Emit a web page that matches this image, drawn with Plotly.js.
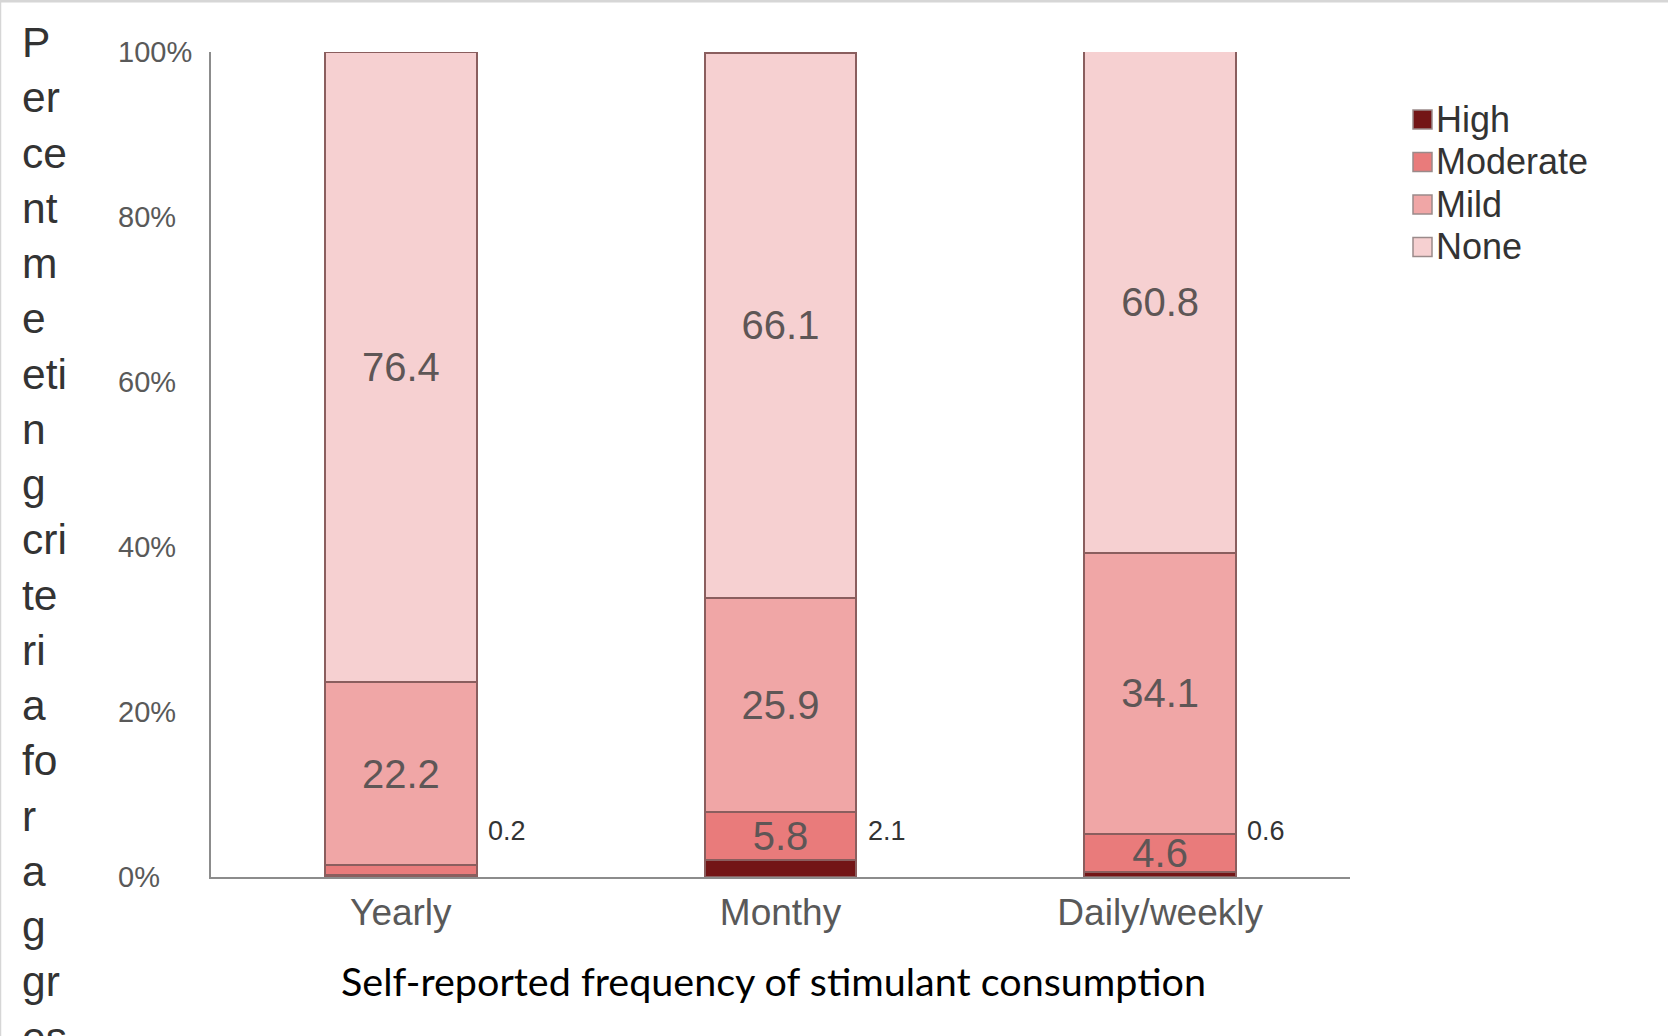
<!DOCTYPE html>
<html>
<head>
<meta charset="utf-8">
<script src="https://cdn.plot.ly/plotly-3.0.1.min.js"></script>
<style>
  html, body { margin: 0; padding: 0; background: #ffffff; }
  #chart { width: 1668px; height: 1036px; }
</style>
</head>
<body>
<div id="chart"></div>
<script>
// ---- data ----
const categories = ['Yearly', 'Monthy', 'Daily/weekly'];
const seriesNames = ['High', 'Moderate', 'Mild', 'None'];
const high = [0.2, 2.1, 0.6];
const moderate = [1.2, 5.8, 4.6];
const mild = [22.2, 25.9, 34.1];
const none = [76.4, 66.1, 60.8];
const yTickVals = [0, 20, 40, 60, 80, 100];
const yTickText = ['0%', '20%', '40%', '60%', '80%', '100%'];
const yTitleLines = ['P', 'er', 'ce', 'nt', 'm', 'e', 'eti', 'n', 'g', 'cri', 'te', 'ri', 'a', 'fo', 'r', 'a', 'g', 'gr', 'es', 'si', 'on'];
const xTitle = 'Self-reported frequency of stimulant consumption';

// ---- styles ----
const colors = ['#731516', '#e97b7b', '#f0a6a6', '#f6d0d1'];
const outline = { color: '#8a5e5e', width: 2 };
const FONT = 'Liberation Sans, Arial, sans-serif';
const W = 1668, H = 1036;
const M = { l: 211, r: 318, t: 52, b: 159 };
const PW = W - M.l - M.r, PH = H - M.t - M.b;
const px2x = p => (p - M.l) / PW;
const px2y = p => (H - M.b - p) / PH;

const labelText = arr => arr.map(v => (v >= 2 ? v.toFixed(1) : ''));

const seriesValues = [high, moderate, mild, none];
const traces = seriesValues.map((vals, i) => ({
  type: 'bar',
  name: seriesNames[i],
  x: categories,
  y: vals,
  marker: { color: colors[i], line: outline },
  text: i === 0 ? vals.map(() => '') : labelText(vals),
  textposition: 'inside',
  insidetextanchor: 'middle',
  constraintext: 'none',
  textfont: { family: FONT, size: 40, color: '#5e5656' },
  hoverinfo: 'x+y+name',
  showlegend: false
}));

const annotations = [];
const shapes = [];
// y-axis tick labels (left-aligned)
yTickVals.forEach((v, i) => {
  annotations.push({
    xref: 'paper', yref: 'y', x: px2x(116), y: v,
    xanchor: 'left', yanchor: 'middle',
    text: yTickText[i], showarrow: false,
    font: { family: FONT, size: 29, color: '#595959' }
  });
});
// small outside labels for the High series
categories.forEach((c, i) => {
  annotations.push({
    xref: 'x', yref: 'y', x: c, y: 0,
    xanchor: 'left', yanchor: 'middle', xshift: 85, yshift: 46,
    text: high[i].toFixed(1), showarrow: false,
    font: { family: FONT, size: 27, color: '#333333' }
  });
});
// wrapped vertical y title
annotations.push({
  xref: 'paper', yref: 'paper', x: px2x(20), y: px2y(17),
  xanchor: 'left', yanchor: 'top', align: 'left',
  text: yTitleLines.join('<br>'), showarrow: false,
  font: { family: FONT, size: 42.5, color: '#333333' }
});
// x axis title
annotations.push({
  xref: 'paper', yref: 'paper', x: px2x(773), y: px2y(981),
  xanchor: 'center', yanchor: 'middle',
  text: xTitle, showarrow: false,
  font: { family: 'Lato, Open Sans, sans-serif', size: 39.5, color: '#000000' }
});
// legend (drawn as swatches + labels)
seriesNames.forEach((n, i) => {
  const cy = 119.5 + i * 42.5;
  shapes.push({
    type: 'rect', xref: 'paper', yref: 'paper',
    x0: px2x(1413), x1: px2x(1432), y0: px2y(cy - 9.5), y1: px2y(cy + 9.5),
    fillcolor: colors[i], line: { color: '#9a8a8a', width: 1.5 }
  });
  annotations.push({
    xref: 'paper', yref: 'paper', x: px2x(1434), y: px2y(cy),
    xanchor: 'left', yanchor: 'middle',
    text: n, showarrow: false,
    font: { family: FONT, size: 36, color: '#333333' }
  });
});
// page border lines
shapes.push(
  { type: 'line', xref: 'paper', yref: 'paper', x0: px2x(0), x1: px2x(W), y0: px2y(1), y1: px2y(1), line: { color: '#d6d6d6', width: 3 } },
  { type: 'line', xref: 'paper', yref: 'paper', x0: px2x(0.5), x1: px2x(0.5), y0: px2y(0), y1: px2y(H), line: { color: '#d6d6d6', width: 1.5 } }
);

const layout = {
  width: W, height: H,
  margin: M,
  paper_bgcolor: '#ffffff', plot_bgcolor: '#ffffff',
  barmode: 'stack',
  bargap: 0.6,
  showlegend: false,
  xaxis: {
    type: 'category',
    showline: true, linecolor: '#8c8c8c', linewidth: 2,
    showgrid: false, ticks: '', zeroline: false,
    tickfont: { family: FONT, size: 37, color: '#595959' },
    ticklabelstandoff: 2,
    automargin: false
  },
  yaxis: {
    range: [0, 100],
    showline: true, linecolor: '#8c8c8c', linewidth: 2,
    showgrid: false, zeroline: false, ticks: '',
    tickvals: yTickVals, showticklabels: false,
    automargin: false
  },
  annotations: annotations,
  shapes: shapes
};

Plotly.newPlot('chart', traces, layout, { displayModeBar: false, staticPlot: true });
</script>
</body>
</html>
